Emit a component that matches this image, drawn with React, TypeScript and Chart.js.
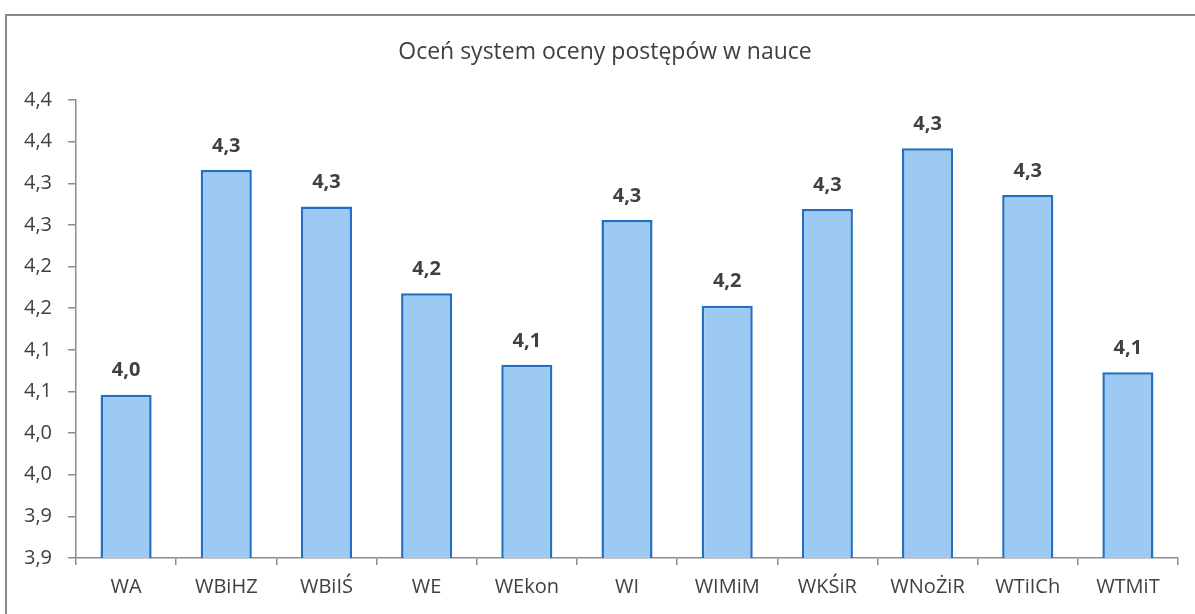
import React, { useEffect, useRef } from "react";
import { Chart, registerables } from "chart.js";

Chart.register(...registerables);

const title = "Oceń system oceny postępów w nauce";
const categories = ["WA", "WBiHZ", "WBiIŚ", "WE", "WEkon", "WI", "WIMiM", "WKŚiR", "WNoŻiR", "WTiICh", "WTMiT"];
const values = [4.046, 4.316, 4.272, 4.168, 4.082, 4.256, 4.153, 4.269, 4.342, 4.286, 4.073];
const yMin = 3.85;
const yMax = 4.4;
const yStep = 0.05;
const yTickLabels = ["3,9", "3,9", "4,0", "4,0", "4,1", "4,1", "4,2", "4,2", "4,3", "4,3", "4,4", "4,4"];

const FONT = "'Open Sans', 'DejaVu Sans', sans-serif";
const TEXT = "#404040";

const fmt = (v: number) => (Math.round(v * 10 + 1e-6) / 10).toFixed(1).replace(".", ",");

const labelPlugin = {
  id: "valueLabels",
  afterDatasetsDraw(chart: any) {
    const ctx = chart.ctx;
    const meta = chart.getDatasetMeta(0);
    ctx.save();
    ctx.font = `bold 20px ${FONT}`;
    ctx.fillStyle = TEXT;
    ctx.textAlign = "center";
    ctx.textBaseline = "middle";
    meta.data.forEach((bar: any, i: number) => {
      ctx.fillText(fmt(values[i]), bar.x, bar.y - 24);
    });
    ctx.restore();
  },
};

const titlePlugin = {
  id: "customTitle",
  afterDraw(chart: any) {
    const ctx = chart.ctx;
    ctx.save();
    ctx.font = `23px ${FONT}`;
    ctx.fillStyle = TEXT;
    ctx.textAlign = "center";
    ctx.textBaseline = "middle";
    ctx.fillText(title, 605, 52);
    ctx.restore();
  },
};

export default function App() {
  const ref = useRef<HTMLCanvasElement | null>(null);
  useEffect(() => {
    if (!ref.current) return;
    const chart = new Chart(ref.current, {
      type: "bar",
      data: {
        labels: categories,
        datasets: [
          {
            data: values,
            backgroundColor: "#9ccaf3",
            borderColor: "#2270c4",
            borderWidth: 2.5,
            categoryPercentage: 1,
            barPercentage: 0.51,
          },
        ],
      },
      options: {
        animation: false,
        responsive: false,
        maintainAspectRatio: false,
        layout: { padding: { top: 100, right: 17, bottom: 0, left: 0 } },
        plugins: {
          legend: { display: false },
          title: { display: false },
          tooltip: { enabled: false },
        },
        scales: {
          x: {
            afterFit: (s: any) => {
              s.height = 56;
            },
            grid: {
              display: true,
              drawOnChartArea: false,
              drawTicks: true,
              tickLength: 7,
              color: "#8c8c8c",
              lineWidth: 1.5,
              offset: true,
            },
            border: { display: true, color: "#8c8c8c", width: 1.5 },
            ticks: {
              color: TEXT,
              font: { family: FONT, size: 20 },
              padding: 10,
              maxRotation: 0,
              autoSkip: false,
            },
          },
          y: {
            min: yMin,
            max: yMax,
            afterFit: (s: any) => {
              s.width = 76;
            },
            grid: {
              display: true,
              drawOnChartArea: false,
              drawTicks: true,
              tickLength: 8,
              color: "#8c8c8c",
              lineWidth: 1.5,
            },
            border: { display: true, color: "#8c8c8c", width: 1.5 },
            ticks: {
              stepSize: yStep,
              color: TEXT,
              font: { family: FONT, size: 20 },
              padding: 16,
              autoSkip: false,
              callback: (_v: any, i: number) => yTickLabels[i],
            },
          },
        },
      },
      plugins: [labelPlugin, titlePlugin],
    });
    return () => chart.destroy();
  }, []);

  return (
    <div style={{ position: "fixed", left: 0, top: 0, width: 1195, height: 614, background: "#ffffff", overflow: "hidden" }}>
      <div
        style={{
          position: "absolute",
          left: 5,
          top: 14,
          width: 1300,
          height: 800,
          borderLeft: "2px solid #8a8a8a",
          borderTop: "2px solid #8a8a8a",
        }}
      />
      <canvas ref={ref} width={1195} height={614} style={{ position: "absolute", left: 0, top: 0 }} />
    </div>
  );
}
